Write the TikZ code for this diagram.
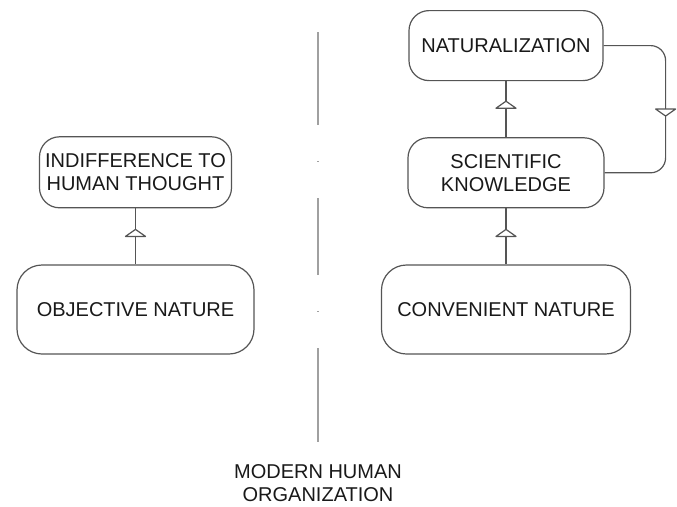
\documentclass[tikz,border=0pt]{standalone}
\usepackage{fontspec}
\setmainfont{Liberation Sans}
\usetikzlibrary{positioning,decorations.markings}
\definecolor{boxgray}{RGB}{85,85,85}
\definecolor{textgray}{RGB}{25,25,25}
\definecolor{divgray}{RGB}{160,160,160}

\begin{document}
\begin{tikzpicture}[x=1pt, y=-1pt, node distance=56pt,
roundbox/.style={rectangle, rounded corners=20pt, draw=boxgray, line width=1.2pt, align=center,
  inner sep=0pt, text=textgray, font=\fontsize{20}{23}\selectfont},
midarrow/.style={draw=boxgray, line width=1.2pt, postaction={decorate, decoration={markings,
  mark=at position #1 with {\draw[boxgray, fill=white, line width=1.2pt, sharp corners, line join=round]
    (-7pt,-10pt) -- (0pt,0pt) -- (-7pt,10pt) -- cycle;}}}}]
    \useasboundingbox (0,0) rectangle (677,506);

    \node[roundbox, rounded corners=25pt, minimum width=237pt, minimum height=89pt] (objective) at (135.5,309.5) {OBJECTIVE NATURE};
    \node[roundbox, minimum width=192pt, minimum height=71pt] [above=of objective] (indiff) {INDIFFERENCE TO\\HUMAN THOUGHT};

    \node[roundbox, rounded corners=25pt, minimum width=249pt, minimum height=89pt] (convenient) at (506,309.5) {CONVENIENT NATURE};
    \node[roundbox, minimum width=196pt, minimum height=70pt] [above=of convenient] (scientific) {SCIENTIFIC\\KNOWLEDGE};
    \node[roundbox, minimum width=194pt, minimum height=70pt] [above=of scientific] (natural) {NATURALIZATION};

    \draw[midarrow=35pt] (objective) -- (indiff);
    \draw[midarrow=35pt] (convenient) -- (scientific);
    \draw[midarrow=36pt] (scientific) -- (natural);

    % loop back on the right
    \coordinate (loopx) at ([xshift=62pt]natural.east);
    \draw[midarrow=126pt, rounded corners=15pt] (natural.east) -- (loopx) -- (loopx |- scientific.east) -- (scientific.east);

    % divider
    \coordinate (divtop) at (318,32);
    \coordinate (divbot) at (318,442);
    \draw[divgray, line width=2pt,
      dash pattern=on 93pt off 36pt on 1pt off 36pt on 77pt off 36pt on 1pt off 36pt on 94pt]
      (divtop) -- (divbot);
    \node[align=center, text=textgray, font=\fontsize{20}{23}\selectfont] (organization) at (318,483) {MODERN HUMAN\\ORGANIZATION};
\end{tikzpicture}
\end{document}
